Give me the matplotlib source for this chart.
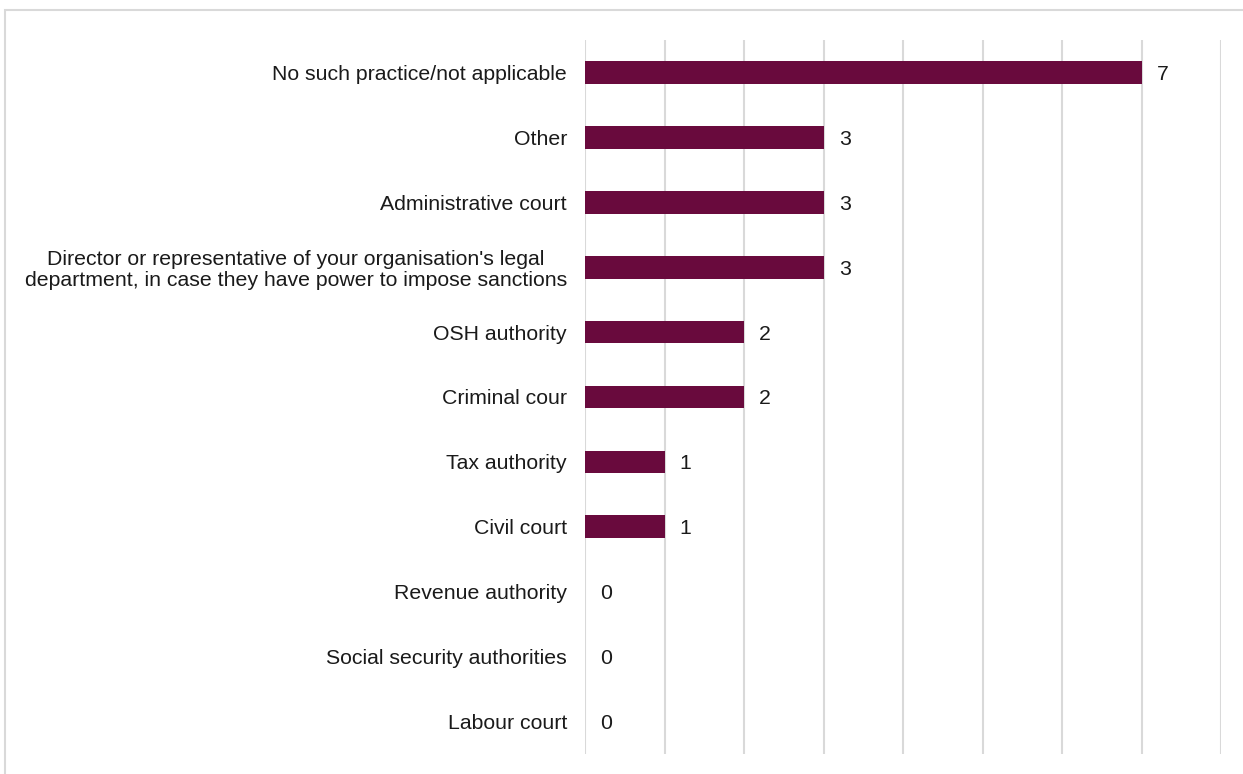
import matplotlib
import matplotlib.pyplot as plt
from matplotlib.patches import Rectangle

matplotlib.use('Agg')
plt.rcParams['font.family'] = ['Liberation Sans', 'DejaVu Sans']

CATEGORIES = [
    'No such practice/not applicable',
    'Other',
    'Administrative court',
    "Director or representative of your organisation's legal\n"
    'department, in case they have power to impose sanctions',
    'OSH authority',
    'Criminal cour',
    'Tax authority',
    'Civil court',
    'Revenue authority',
    'Social security authorities',
    'Labour court',
]
COUNTS = [7, 3, 3, 3, 2, 2, 1, 1, 0, 0, 0]

BAR_COLOR = '#690A3D'
GRID_COLOR = '#D9D9D9'
TEXT_COLOR = '#1a1a1a'
FONT_SIZE = 15.3

fig = plt.figure(figsize=(12.43, 7.74), dpi=100)
ax = fig.add_axes([585 / 1243, 20 / 774, (1221 - 585) / 1243, 714 / 774])

y = list(range(len(CATEGORIES)))
bars = ax.barh(y, COUNTS, height=0.35, color=BAR_COLOR, zorder=3)

for bar, value in zip(bars, COUNTS):
    ax.annotate(str(value), (bar.get_width(), bar.get_y() + bar.get_height() / 2),
                xytext=(11, 0), textcoords='offset points',
                ha='left', va='center_baseline', fontsize=FONT_SIZE, color=TEXT_COLOR)

ax.set_xlim(0, 8)
ax.set_ylim(len(CATEGORIES) - 0.5, -0.5)
ax.set_yticks(y)
ax.set_yticklabels(CATEGORIES, fontsize=FONT_SIZE, color=TEXT_COLOR, linespacing=1.1)
for label in ax.get_yticklabels():
    label.set_multialignment('center')
ax.set_xticks(range(0, 9))
ax.tick_params(axis='x', length=0, labelbottom=False)
ax.tick_params(axis='y', length=0, pad=13)
ax.grid(axis='x', color=GRID_COLOR, linewidth=1.5, zorder=0)
for spine in ax.spines.values():
    spine.set_visible(False)

# light frame around the chart area
fig.patches.append(Rectangle((5 / 1243, -0.1), 1.2, (764 / 774) + 0.1,
                             transform=fig.transFigure, fill=False,
                             edgecolor=GRID_COLOR, linewidth=1.5))

fig.savefig('out.png', dpi=100)
